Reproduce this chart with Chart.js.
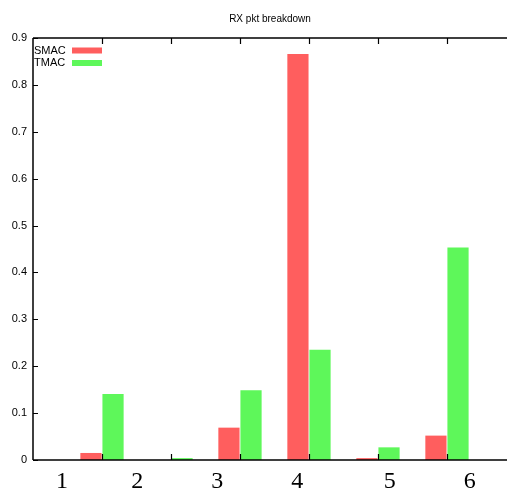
<!DOCTYPE html>
<html><head><meta charset="utf-8">
<script src="https://cdn.jsdelivr.net/npm/chart.js@4/dist/chart.umd.min.js"></script>
<style>html,body{margin:0;padding:0;background:#fff;} #wrap{width:507px;height:490px;}</style>
</head><body><div id="wrap"><canvas id="c" width="507" height="490"></canvas></div>
<script>
// ---- data ----
const categories = [1, 2, 3, 4, 5, 6];
const categoryLabels = ['1', '2', '3', '4', '5', '6'];
const seriesNames = ['SMAC', 'TMAC'];
const smacValues = [0.015, 0.0, 0.069, 0.866, 0.004, 0.052];
const tmacValues = [0.141, 0.004, 0.149, 0.235, 0.027, 0.453];
const yTickValues = [0, 0.1, 0.2, 0.3, 0.4, 0.5, 0.6, 0.7, 0.8, 0.9];
const titleText = 'RX pkt breakdown';

// ---- layout constants (not data) ----
const X_MIN = 0, X_MAX = 6.87;
const CAPTION_AT = [0.42, 1.51, 2.67, 3.83, 5.17, 6.33];
const RED = '#ff5e5e', GREEN = '#5ef75a';

const framePlugin = {
  id: 'frame',
  afterDraw(chart) {
    const ctx = chart.ctx, a = chart.chartArea;
    const xs = chart.scales.x, ys = chart.scales.y;
    ctx.save();
    ctx.strokeStyle = '#000';
    ctx.lineWidth = 1.5;
    ctx.beginPath();
    ctx.moveTo(a.left, a.top); ctx.lineTo(a.right, a.top);
    ctx.moveTo(a.left, a.top); ctx.lineTo(a.left, a.bottom);
    ctx.moveTo(a.left, a.bottom); ctx.lineTo(a.right, a.bottom);
    ctx.stroke();
    ctx.lineWidth = 1.2;
    ctx.beginPath();
    categories.forEach(c => {
      const px = Math.round(xs.getPixelForValue(c)) + 0.5;
      ctx.moveTo(px, a.top); ctx.lineTo(px, a.top + 6);
      ctx.moveTo(px, a.bottom); ctx.lineTo(px, a.bottom - 6);
    });
    yTickValues.forEach(v => {
      const py = Math.round(ys.getPixelForValue(v)) + 0.5;
      ctx.moveTo(a.left, py); ctx.lineTo(a.left + 5, py);
    });
    ctx.stroke();
    // legend: text then sample
    ctx.font = '11px "Liberation Sans"';
    ctx.textBaseline = 'middle';
    ctx.textAlign = 'left';
    chart.data.datasets.forEach((ds, i) => {
      const cy = a.top + 12.5 + i * 12.5;
      ctx.fillStyle = '#000';
      ctx.fillText(ds.label, a.left + 1, cy);
      ctx.fillStyle = ds.backgroundColor;
      ctx.fillRect(a.left + 39, cy - 3, 30, 6);
    });
    ctx.restore();
  }
};

new Chart(document.getElementById('c'), {
  type: 'bar',
  data: {
    datasets: [
      { label: seriesNames[0], data: categories.map((c, i) => ({ x: c, y: smacValues[i] })), backgroundColor: RED, borderWidth: 0 },
      { label: seriesNames[1], data: categories.map((c, i) => ({ x: c, y: tmacValues[i] })), backgroundColor: GREEN, borderWidth: 0 }
    ]
  },
  options: {
    responsive: false,
    animation: false,
    devicePixelRatio: 1,
    categoryPercentage: 0.64,
    barPercentage: 0.96,
    layout: { padding: { left: 0, right: 0, top: 0, bottom: 0 } },
    plugins: {
      legend: { display: false },
      tooltip: { enabled: false },
      title: {
        display: true, text: titleText, fullSize: false,
        color: '#000', font: { family: 'Liberation Sans', size: 10, weight: 'normal' },
        padding: { top: 13, bottom: 13 }
      }
    },
    scales: {
      x: {
        type: 'linear', min: X_MIN, max: X_MAX, offset: false,
        grid: { display: false, drawTicks: false }, border: { display: false },
        afterBuildTicks: s => { s.ticks = categories.map(v => ({ value: v })); },
        ticks: { display: false }
      },
      x2: {
        type: 'linear', position: 'bottom', min: X_MIN, max: X_MAX, offset: false,
        grid: { display: false, drawTicks: false }, border: { display: false },
        afterBuildTicks: s => { s.ticks = CAPTION_AT.map(v => ({ value: v })); },
        afterFit: s => { s.height = 30; },
        ticks: {
          autoSkip: false, maxRotation: 0, padding: 7, color: '#000',
          font: { family: 'Liberation Serif', size: 24 },
          callback: (v, i) => categoryLabels[i]
        }
      },
      y: {
        type: 'linear', min: 0, max: 0.9,
        grid: { display: false, drawTicks: false }, border: { display: false },
        afterBuildTicks: s => { s.ticks = yTickValues.map(v => ({ value: v })); },
        afterFit: s => { s.width = 33; },
        ticks: {
          padding: 6, color: '#000',
          font: { family: 'Liberation Sans', size: 11 },
          callback: v => String(Number(v.toFixed(1)))
        }
      }
    }
  },
  plugins: [framePlugin]
});
</script></body></html>
